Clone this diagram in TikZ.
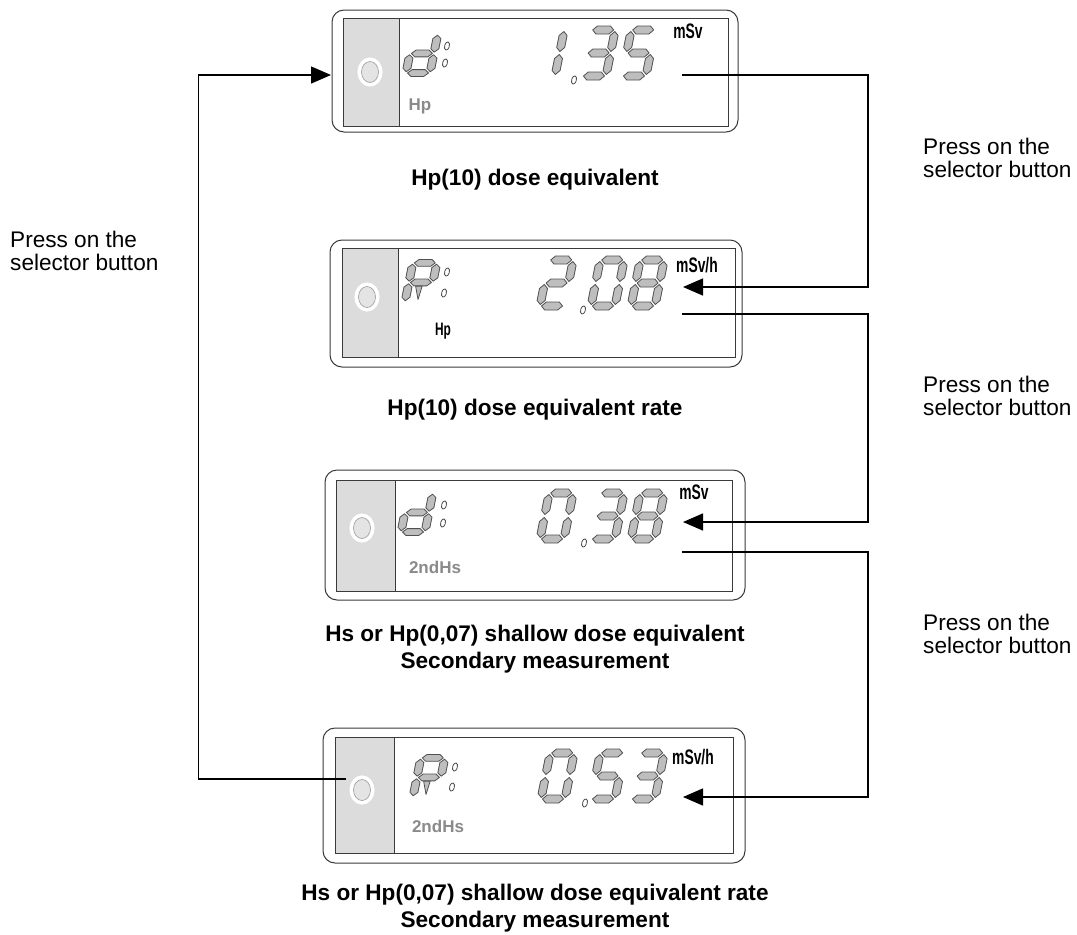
\documentclass[tikz,border=0pt]{standalone}
\usepackage{fontspec}
\setmainfont{Liberation Sans}
\newfontfamily\narrowfont[FakeStretch=0.66]{Liberation Sans}
\usepackage{tikz}
\usetikzlibrary{arrows.meta, shapes.geometric}

\definecolor{panelgray}{HTML}{DCDCDC}
\definecolor{segfill}{HTML}{BEBEBE}
\definecolor{segline}{HTML}{505050}
\definecolor{lcdtext}{HTML}{8A8A8A}
\definecolor{framegray}{HTML}{3A3A3A}
\definecolor{btnface}{HTML}{E4E4E4}

% one bar of a 7-segment digit: centre x, centre y, length
\def\segh{4}
\newcommand{\hseg}[3]{\filldraw[seg] ({#1-#3/2},#2) -- ({#1-#3/2+\segh},{#2+\segh}) -- ({#1+#3/2-\segh},{#2+\segh})
  -- ({#1+#3/2},#2) -- ({#1+#3/2-\segh},{#2-\segh}) -- ({#1-#3/2+\segh},{#2-\segh}) -- cycle;}
\newcommand{\vseg}[3]{\filldraw[seg] (#1,{#2-#3/2}) -- ({#1+\segh},{#2-#3/2+\segh}) -- ({#1+\segh},{#2+#3/2-\segh})
  -- (#1,{#2+#3/2}) -- ({#1-\segh},{#2+#3/2-\segh}) -- ({#1-\segh},{#2-#3/2+\segh}) -- cycle;}
\newcommand{\lcdsega}{\hseg{12}{46}{21}}
\newcommand{\lcdsegb}{\vseg{24}{34.5}{20}}
\newcommand{\lcdsegc}{\vseg{24}{11.5}{20}}
\newcommand{\lcdsegd}{\hseg{12}{0}{21}}
\newcommand{\lcdsege}{\vseg{0}{11.5}{20}}
\newcommand{\lcdsegf}{\vseg{0}{34.5}{20}}
\newcommand{\lcdsegg}{\hseg{12}{23}{21}}
\newcommand{\lcdsegr}{\filldraw[seg] (7.5,18.5) -- (14,18.5) -- (12.5,3) -- cycle;}
% digit: [extra keys]{x}{y of bottom bar}{segments}
\newcommand{\lcddigit}[4][]{%
  \begin{scope}[shift={(#2,#3)}, y=1pt, xslant=0.2, #1]
    \foreach \s in {#4} {\csname lcdseg\s\endcsname}
  \end{scope}}
\newcommand{\lcddot}[2]{\filldraw[dotseg] (#1,#2) circle [x radius=2.4, y radius=4.2, rotate=-15];}

\begin{document}
\begin{tikzpicture}[x=1pt, y=-1pt,
    dispbox/.style={draw=framegray, line width=1pt, rounded corners=12pt, fill=white, inner sep=0pt},
    inner/.style={draw=framegray, line width=0.9pt},
    panel/.style={fill=panelgray, draw=framegray, line width=0.9pt},
    btn/.style={ellipse, fill=btnface, draw=gray!80, line width=0.6pt, inner sep=0pt,
      minimum width=17pt, minimum height=21pt, preaction={draw=white, line width=8pt}},
    seg/.style={fill=segfill, draw=segline, line width=0.8pt, line join=round},
    dotseg/.style={fill=white, draw=segline, line width=0.8pt},
    unit/.style={font=\narrowfont\bfseries\fontsize{21}{21}\selectfont, inner sep=0pt},
    modelbl/.style={font=\bfseries\fontsize{17}{17}\selectfont, text=lcdtext, inner sep=0pt},
    note/.style={font=\fontsize{22.6}{23.5}\selectfont, align=left, anchor=west, inner sep=0pt},
    caption/.style={font=\bfseries\fontsize{22.6}{26.5}\selectfont, align=center, inner sep=0pt},
    conn/.style={line width=1.4pt, -{Triangle[length=20pt, width=17pt]}}]
  \useasboundingbox (0,0) rectangle (1077,935);

  % Display 1: Hp(10) dose
  \node[dispbox, minimum width=406pt, minimum height=122pt] (disp1) at (535,71) {};
  \draw[inner] (343,18) rectangle (728,126);
  \filldraw[panel] (343,18) rectangle (399,126);
  \node[btn] (btn1) at (370,72) {};
  \lcddigit[yscale=0.85]{406}{73}{b,c,d,e,g}
  \lcddot{447}{46} \lcddot{445}{63}
  \node[modelbl] (mode1) at (420,106) {Hp};
  \lcddigit{531}{76}{b,c}
  \lcddot{574}{80}
  \lcddigit{582}{76}{a,b,c,d,g}
  \lcddigit{622}{76}{a,f,g,c,d}
  \node[unit] (unit1) at (688,31) {mSv};

  % Display 2: Hp(10) rate
  \node[dispbox, minimum width=412pt, minimum height=127pt] (disp2) at (536,303.5) {};
  \draw[inner] (342,248) rectangle (735,357);
  \filldraw[panel] (342,248) rectangle (398,357);
  \node[btn] (btn2) at (367,297) {};
  \lcddigit[yscale=0.85]{405}{302}{a,b,e,f,g,r}
  \lcddot{447}{272} \lcddot{444}{293}
  \node[unit, font=\narrowfont\bfseries\fontsize{18}{18}\selectfont] (mode2) at (443,331) {Hp};
  \lcddigit{540}{306}{a,b,g,e,d}
  \lcddot{583}{310}
  \lcddigit{591}{306}{a,b,c,d,e,f}
  \lcddigit{631}{306}{a,b,c,d,e,f,g}
  \node[unit] (unit2) at (697,265) {mSv/h};

  % Display 3: Hs dose
  \node[dispbox, minimum width=420pt, minimum height=130pt] (disp3) at (535,535) {};
  \draw[inner] (336,480) rectangle (732,591);
  \filldraw[panel] (336,480) rectangle (395,591);
  \node[btn] (btn3) at (362,528) {};
  \lcddigit[yscale=0.85]{401}{532}{b,c,d,e,g}
  \lcddot{444}{505} \lcddot{443}{523}
  \node[modelbl] (mode3) at (435,567) {2ndHs};
  \lcddigit{540}{539}{a,b,c,d,e,f}
  \lcddot{584}{543}
  \lcddigit{591}{539}{a,b,c,d,g}
  \lcddigit{631}{539}{a,b,c,d,e,f,g}
  \node[unit] (unit3) at (694,492) {mSv};

  % Display 4: Hs rate
  \node[dispbox, minimum width=422pt, minimum height=135pt] (disp4) at (534,795.5) {};
  \draw[inner] (335,737) rectangle (733,853);
  \filldraw[panel] (335,737) rectangle (394,853);
  \node[btn] (btn4) at (362,790) {};
  \lcddigit[yscale=0.85]{413}{797}{a,b,e,f,g,r}
  \lcddot{455}{767} \lcddot{452}{787}
  \node[modelbl] (mode4) at (438,826) {2ndHs};
  \lcddigit{541}{799}{a,b,c,d,e,f}
  \lcddot{585}{803}
  \lcddigit{591}{799}{a,f,g,c,d}
  \lcddigit{631}{799}{a,b,c,d,g}
  \node[unit] (unit4) at (693,757) {mSv/h};

  % Captions
  \node[caption] (cap1) at (535,180) {Hp(10) dose equivalent};
  \node[caption] (cap2) at (535,410) {Hp(10) dose equivalent rate};
  \node[caption] (cap3) at (535,649) {Hs or Hp(0,07) shallow dose equivalent\\Secondary measurement};
  \node[caption] (cap4) at (535,908) {Hs or Hp(0,07) shallow dose equivalent rate\\Secondary measurement};

  % Labels
  \node[note] (press0) at (10,251) {Press on the\\selector button};
  \node[note] (press1) at (923,158) {Press on the\\selector button};
  \node[note] (press2) at (923,396) {Press on the\\selector button};
  \node[note] (press3) at (923,634) {Press on the\\selector button};

  % Connectors
  \coordinate (in1) at (331,75);
  \coordinate (out1) at (682,75);
  \coordinate (in2) at (683,287);
  \coordinate (out2) at (682,314);
  \coordinate (in3) at (683,522);
  \coordinate (out3) at (682,552);
  \coordinate (in4) at (683,797);
  \draw[conn] (out1) -- ++(186,0) |- (in2);
  \draw[conn] (out2) -- ++(186,0) |- (in3);
  \draw[conn] (out3) -- ++(186,0) |- (in4);
  \draw[conn] ([xshift=-7pt, yshift=11pt]btn4.west) -- ++(-148,0) |- (in1);

\end{tikzpicture}
\end{document}
